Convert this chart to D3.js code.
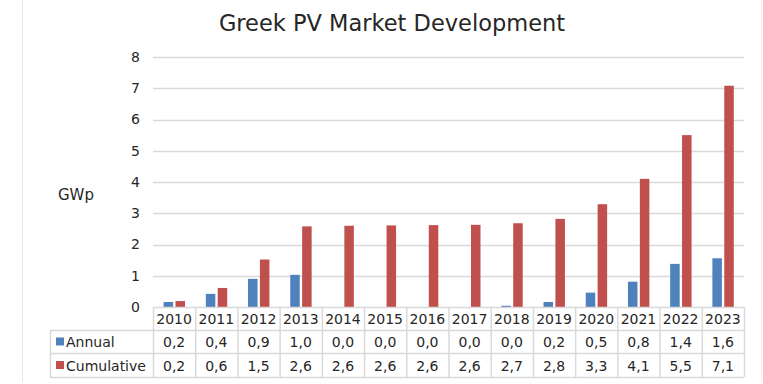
<!DOCTYPE html>
<html>
<head>
<meta charset="utf-8">
<script src="https://cdn.jsdelivr.net/npm/d3@7"></script>
<style>
  body { margin: 0; background: #fff; }
  svg { display: block; font-family: "DejaVu Sans", sans-serif; }
</style>
</head>
<body>
<div id="chart"></div>
<script>
const years = ["2010","2011","2012","2013","2014","2015","2016","2017","2018","2019","2020","2021","2022","2023"];
const annual = [0.16, 0.42, 0.9, 1.03, 0.0, 0.0, 0.0, 0.0, 0.04, 0.16, 0.46, 0.81, 1.38, 1.56];
const cumulative = [0.19, 0.61, 1.52, 2.58, 2.6, 2.61, 2.62, 2.63, 2.68, 2.82, 3.29, 4.1, 5.5, 7.08];
const yTicks = [0, 1, 2, 3, 4, 5, 6, 7, 8];
const seriesNames = ["Annual", "Cumulative"];
const seriesColors = ["#4F81BD", "#C0504D"];

const W = 763, H = 384;
const plotLeft = 153, plotRight = 744, plotTop = 57, base = 307;
const rowH = [307, 330, 353, 377];  // table row edges
const legendLeft = 50;
const lineColor = "#D9D9D9", textColor = "#262626";

const svg = d3.select("#chart").append("svg")
    .attr("width", W)
    .attr("height", H);

// outer chart border (only the left and right edges show)
svg.append("line").attr("x1", 22.5).attr("x2", 22.5).attr("y1", 0).attr("y2", 382)
  .attr("stroke", "#E6E6E6");
svg.append("line").attr("x1", 761.5).attr("x2", 761.5).attr("y1", 0).attr("y2", 382)
  .attr("stroke", "#F0F0F0");

svg.append("text")
  .attr("x", 392).attr("y", 31)
  .attr("text-anchor", "middle")
  .attr("font-size", 22.5)
  .attr("fill", textColor)
  .text("Greek PV Market Development");

var x = d3.scaleBand()
  .domain(years)
  .range([plotLeft, plotRight])
  .paddingInner(0)
  .paddingOuter(0);

var xSub = d3.scaleBand()
  .domain(seriesNames)
  .range([10.6, 32])
  .paddingInner(0.2);

var y = d3.scaleLinear()
  .domain([0, 8])
  .range([base, plotTop]);

// gridlines
svg.append("g")
  .selectAll("line")
  .data(yTicks.filter(d => d > 0))
  .enter().append("line")
    .attr("x1", plotLeft).attr("x2", plotRight)
    .attr("y1", d => Math.round(y(d)) + 0.5)
    .attr("y2", d => Math.round(y(d)) + 0.5)
    .attr("stroke", lineColor)
    .attr("stroke-width", 1.5);

// y axis labels
var yAxis = svg.append("g")
  .attr("transform", "translate(" + (plotLeft - 13) + ",0)")
  .call(d3.axisLeft(y).tickValues(yTicks).tickSize(0).tickPadding(0));
yAxis.select(".domain").remove();
yAxis.selectAll("text")
  .attr("font-family", "DejaVu Sans, sans-serif")
  .attr("font-size", 14)
  .attr("fill", textColor);

svg.append("text")
  .attr("x", 58).attr("y", 200)
  .attr("font-size", 15)
  .attr("fill", textColor)
  .text("GWp");

// bars
const valuesBySeries = { "Annual": annual, "Cumulative": cumulative };
seriesNames.forEach((name, si) => {
  svg.append("g")
    .selectAll("rect")
    .data(valuesBySeries[name])
    .enter().append("rect")
      .attr("x", (d, i) => x(years[i]) + xSub(name))
      .attr("width", xSub.bandwidth())
      .attr("y", d => y(d))
      .attr("height", d => base - y(d))
      .attr("fill", seriesColors[si]);
});

// data table
const table = svg.append("g");
// horizontal lines
table.append("line")
  .attr("x1", plotLeft).attr("x2", plotRight)
  .attr("y1", rowH[0] + 0.5).attr("y2", rowH[0] + 0.5)
  .attr("stroke", lineColor).attr("stroke-width", 1.5);
[rowH[1], rowH[2], rowH[3]].forEach(yy => {
  table.append("line")
    .attr("x1", legendLeft).attr("x2", plotRight)
    .attr("y1", yy + 0.5).attr("y2", yy + 0.5)
    .attr("stroke", lineColor).attr("stroke-width", 1.5);
});
// vertical lines
years.forEach(yr => {
  table.append("line")
    .attr("x1", x(yr) + 0.5).attr("x2", x(yr) + 0.5)
    .attr("y1", rowH[0]).attr("y2", rowH[3])
    .attr("stroke", lineColor).attr("stroke-width", 1.5);
});
table.append("line")
  .attr("x1", plotRight + 0.5).attr("x2", plotRight + 0.5)
  .attr("y1", rowH[0]).attr("y2", rowH[3])
  .attr("stroke", lineColor).attr("stroke-width", 1.5);
table.append("line")
  .attr("x1", legendLeft + 0.5).attr("x2", legendLeft + 0.5)
  .attr("y1", rowH[1]).attr("y2", rowH[3])
  .attr("stroke", lineColor).attr("stroke-width", 1.5);

const fmt = v => d3.format(".1f")(v).replace(".", ",");

// header row: years
table.append("g")
  .selectAll("text")
  .data(years)
  .enter().append("text")
    .attr("x", d => x(d) + x.bandwidth() / 2)
    .attr("y", (rowH[0] + rowH[1]) / 2 + 5.5)
    .attr("text-anchor", "middle")
    .attr("font-size", 14)
    .attr("fill", textColor)
    .text(d => d);

seriesNames.forEach((name, si) => {
  const yMid = (rowH[si + 1] + rowH[si + 2]) / 2;
  table.append("rect")
    .attr("x", 56).attr("y", yMid - 4)
    .attr("width", 8).attr("height", 8)
    .attr("fill", seriesColors[si]);
  table.append("text")
    .attr("x", 66).attr("y", yMid + 5.5)
    .attr("font-size", 14)
    .attr("fill", textColor)
    .text(name);
  table.append("g")
    .selectAll("text")
    .data(valuesBySeries[name])
    .enter().append("text")
      .attr("x", (d, i) => x(years[i]) + x.bandwidth() / 2)
      .attr("y", yMid + 5.5)
      .attr("text-anchor", "middle")
      .attr("font-size", 14)
      .attr("fill", textColor)
      .text(d => fmt(d));
});
</script>
</body>
</html>
